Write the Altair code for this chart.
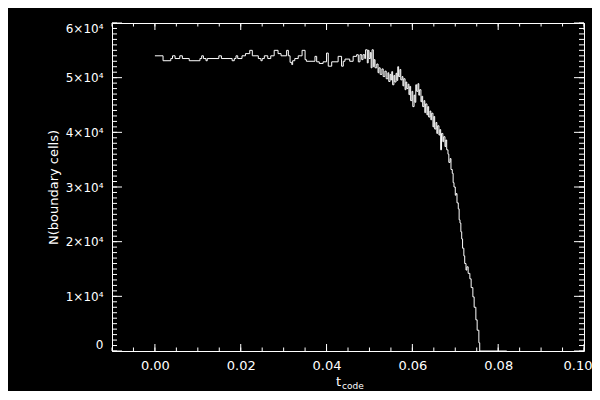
import altair as alt
import pandas as pd

# ---- data ----
t_code = [
    0.0000, 0.0019, 0.0037, 0.0041, 0.0047, 0.0058, 0.0064, 0.0080, 0.0105, 0.0109,
    0.0113, 0.0119, 0.0122, 0.0149, 0.0155, 0.0180, 0.0185, 0.0189, 0.0193, 0.0203,
    0.0211, 0.0221, 0.0227, 0.0241, 0.0247, 0.0250, 0.0255, 0.0263, 0.0270, 0.0278,
    0.0287, 0.0294, 0.0307, 0.0311, 0.0315, 0.0319, 0.0321, 0.0326, 0.0334, 0.0343,
    0.0350, 0.0353, 0.0373, 0.0377, 0.0383, 0.0392, 0.0400, 0.0404, 0.0412, 0.0427,
    0.0435, 0.0439, 0.0443, 0.0454, 0.0462, 0.0470, 0.0474, 0.0478, 0.0482, 0.0485,
    0.0489, 0.0491, 0.0495, 0.0497, 0.0499, 0.0502, 0.0504, 0.0506, 0.0509, 0.0511,
    0.0513, 0.0517, 0.0520, 0.0522, 0.0525, 0.0529, 0.0532, 0.0536, 0.0539,
    0.0543, 0.0545, 0.0548, 0.0550, 0.0552, 0.0554, 0.0557, 0.0559, 0.0562, 0.0564,
    0.0566, 0.0568, 0.0571, 0.0573, 0.0576, 0.0578, 0.0580, 0.0583, 0.0585, 0.0587,
    0.0590, 0.0592, 0.0594, 0.0596, 0.0599, 0.0601, 0.0604, 0.0606, 0.0608, 0.0610,
    0.0613, 0.0615, 0.0617, 0.0620, 0.0622, 0.0624, 0.0627, 0.0629, 0.0631, 0.0634,
    0.0636, 0.0638, 0.0641, 0.0643, 0.0645, 0.0648, 0.0650, 0.0652, 0.0655, 0.0657,
    0.0659, 0.0662, 0.0664, 0.0666, 0.0668, 0.0671, 0.0673, 0.0676, 0.0678, 0.0680,
    0.0683, 0.0685, 0.0688, 0.0690, 0.0693, 0.0695, 0.0697, 0.0700, 0.0702, 0.0704,
    0.0707, 0.0709, 0.0711, 0.0713, 0.0715, 0.0717, 0.0720, 0.0722, 0.0725, 0.0727,
    0.0730, 0.0734, 0.0737, 0.0741, 0.0744, 0.0748, 0.0751, 0.0755, 0.0757, 0.0820,
]

n_cells = [
    54000, 53100, 53500, 54000, 53500, 54000, 53500, 53100, 53500, 54000,
    53500, 53100, 53500, 54000, 53500, 53100, 53500, 54000, 53500, 54000,
    54400, 55000, 54000, 53500, 53100, 53500, 54000, 53500, 54000, 55000,
    54400, 54000, 55000, 54000, 52800, 52400, 53100, 53500, 54000, 55000,
    53300, 53000, 53900, 52900, 52600, 52900, 54500, 52100, 52900, 53900,
    52100, 53000, 53400, 53000, 53900, 54200, 52900, 54200, 53300, 54200,
    53500, 55100, 52700, 55000, 53500, 54600, 51800, 55100, 52000, 53300,
    51800, 52500, 50900, 51800, 50600, 51600, 50200, 51200, 49800,
    50900, 49300, 50600, 49600, 51100, 48700, 50400, 49200, 50800, 49500,
    52000, 50200, 51500, 49600, 50200, 48500, 49800, 47800, 49200, 48000,
    48800, 46900, 48400, 45800, 47500, 44700, 46800, 45500, 48700, 47500,
    48900, 46800, 47800, 45600, 46600, 44700, 45800, 43600, 45200, 43200,
    44700, 42800, 43900, 42300, 43500, 41000, 42900, 40600, 41800, 39800,
    41200, 39500, 40500, 36800, 39800, 38300, 39200, 37400, 38600, 36800,
    36000, 34500, 35200, 33200, 32500, 30800, 30000, 28500, 28800, 27100,
    26000, 24000, 23400, 21800, 20500, 18800, 17400, 16000, 14800, 15400,
    14200, 13200, 11600, 9900, 8000, 5700, 3800, 1500, 0, 0,
]

x_major = [0.00, 0.02, 0.04, 0.06, 0.08, 0.10]
x_minor = [round(-0.01 + 0.005 * i, 3) for i in range(23)]
y_major = [0, 10000, 20000, 30000, 40000, 50000, 60000]
y_minor = [1000 * i for i in range(61)]

W, H = 472, 328
FONT = "DejaVu Sans"

df = pd.DataFrame({"t": t_code, "n": n_cells})
xscale = alt.Scale(domain=[-0.01, 0.10], nice=False, zero=False)
yscale = alt.Scale(domain=[0, 60000], nice=False, zero=False)

xaxis = alt.Axis(
    values=x_major, format=".2f", title="t", ticks=False, domain=False, grid=False,
    labelFlush=True, labelFlushOffset=8, labelOverlap=False, labelPadding=8, labelFontSize=13,
    labelColor="white", labelFont=FONT,
    titleFontSize=13, titleFontWeight="normal", titleColor="white", titleFont=FONT,
    titleX=226, titleY=34, titleAlign="center", titleBaseline="alphabetic")
yaxis = alt.Axis(
    values=y_major,
    labelExpr="datum.value == 0 ? '0' : format(datum.value / 10000, 'd') + '×10⁴'",
    title="N(boundary cells)", ticks=False, domain=False, grid=False,
    labelFlush=True, labelOverlap=False, labelPadding=9, labelFontSize=12,
    labelColor="white", labelFont=FONT,
    titleFontSize=13, titleFontWeight="normal", titleColor="white", titleFont=FONT,
    titleX=-59, titleY=H / 2, titleAngle=270, titleAlign="center", titleBaseline="middle")

line = alt.Chart(df).mark_line(color="white", strokeWidth=1, interpolate="step-after").encode(
    x=alt.X("t:Q", scale=xscale, axis=xaxis),
    y=alt.Y("n:Q", scale=yscale, axis=yaxis),
)


def xticks(vals, length, top):
    return alt.Chart(pd.DataFrame({"t": vals})).mark_rule(color="white", strokeWidth=1).encode(
        x=alt.X("t:Q", scale=xscale, axis=xaxis),
        y=alt.value(0 if top else H),
        y2=alt.value(length if top else H - length),
    )


def yticks(vals, length, right):
    return alt.Chart(pd.DataFrame({"n": vals})).mark_rule(color="white", strokeWidth=1).encode(
        y=alt.Y("n:Q", scale=yscale, axis=yaxis),
        x=alt.value(W if right else 0),
        x2=alt.value(W - length if right else length),
    )


sub = alt.Chart(pd.DataFrame({"a": [0]})).mark_text(
    text="code", color="white", font=FONT, fontSize=9, align="left", baseline="alphabetic"
).encode(x=alt.value(230), y=alt.value(H + 38))

chart = alt.layer(
    line,
    xticks(x_minor, 3.5, False), xticks(x_minor, 3.5, True),
    xticks(x_major, 7, False), xticks(x_major, 7, True),
    yticks(y_minor, 5, False), yticks(y_minor, 5, True),
    yticks(y_major, 10, False), yticks(y_major, 10, True),
    sub,
).properties(
    width=W, height=H,
    autosize=alt.AutoSizeParams(type="none"),
    padding={"left": 104, "top": 15, "right": 8, "bottom": 40},
    background="black",
).configure_view(
    stroke="white", strokeWidth=1
)

chart.save("out.html", embed_options={"renderer": "svg", "actions": False})
